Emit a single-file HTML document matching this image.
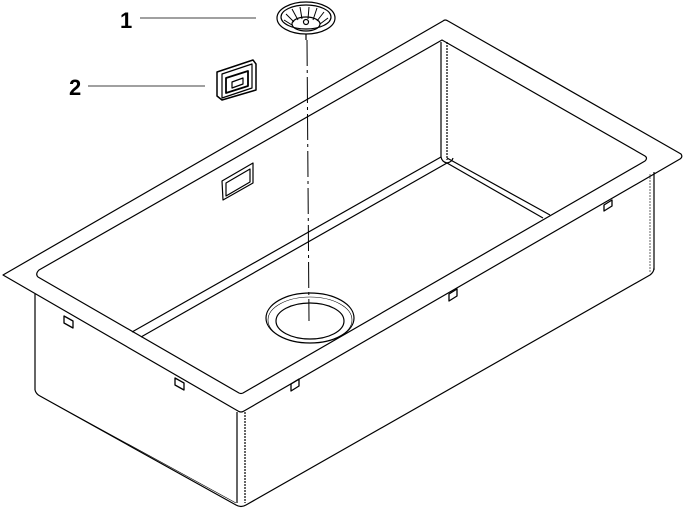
<!DOCTYPE html>
<html><head><style>body{margin:0;background:#fff}svg{display:block}</style></head><body>
<svg width="683" height="511" viewBox="0 0 683 511" xmlns="http://www.w3.org/2000/svg" fill="none" stroke="#000" stroke-width="1.2" stroke-linejoin="round">
<!-- labels -->
<text x="120" y="28" font-family="Liberation Sans, sans-serif" font-size="22" font-weight="bold" fill="#000" stroke="none">1</text>
<line x1="140" y1="18" x2="256" y2="18" stroke-width="0.8"/>
<text x="69" y="95" font-family="Liberation Sans, sans-serif" font-size="22" font-weight="bold" fill="#000" stroke="none">2</text>
<line x1="88" y1="86" x2="205" y2="86" stroke-width="0.8"/>
<!-- strainer -->
<ellipse cx="306" cy="18" rx="29" ry="16"/>
<ellipse cx="306" cy="17" rx="25" ry="12"/>
<ellipse cx="306" cy="24" rx="14" ry="7"/>
<g stroke-width="1">
<line x1="286" y1="14" x2="294" y2="22"/><line x1="292" y1="9" x2="298" y2="20"/><line x1="300" y1="7" x2="302" y2="19"/>
<line x1="309" y1="7" x2="308" y2="19"/><line x1="317" y1="8" x2="313" y2="20"/><line x1="324" y1="12" x2="317" y2="21"/>
<line x1="328" y1="18" x2="320" y2="24"/><line x1="284" y1="20" x2="292" y2="25"/>
</g>
<circle cx="306" cy="22" r="2.5"/>
<line x1="306" y1="34" x2="306" y2="40"/>
<!-- overflow cover -->
<path d="M217 72 L253 60 L256 64 L256 90 L222 100 L217 96 Z" stroke-width="1.5"/>
<path d="M222 74 L252 64 L252 88 L222 98 Z"/>
<path d="M226 78 L248 71 L248 86 L226 93 Z" stroke-width="1.8"/>
<path d="M232 82 L243 78 L243 84 L232 88 Z"/>
<!-- dashed axis -->
<line x1="307" y1="40" x2="309" y2="321" stroke-width="1" stroke-dasharray="26 4 3 4"/>
<!-- rim outer -->
<path d="M3 275 L443 21 Q445 19 448 21 L681 154 Q683 157 680 159 L244 411 Q241 413 238 411 Z"/>
<!-- rim inner -->
<path d="M39 270 L442 40 L645 156 Q648 158 645 161 L243 393 Q241 394 239 393 L38 277 Q35 274 39 270 Z"/>
<!-- back corner fillet -->
<line x1="441" y1="42" x2="441" y2="157"/>
<line x1="447" y1="42" x2="447" y2="160" stroke-dasharray="2 1"/>
<path d="M441 157 Q442 162 447 163 Q452 162 453 158"/>
<!-- floor edges -->
<line x1="441" y1="157" x2="132" y2="332"/>
<line x1="447" y1="163" x2="141" y2="337"/>
<line x1="447" y1="158" x2="550" y2="215"/>
<line x1="447" y1="163" x2="543" y2="218"/>
<!-- overflow on back wall -->
<path d="M222 181 L253 163 L253 183 L223 200 Z"/>
<path d="M226 183 L250 169 L250 182 L226 196 Z"/>
<!-- drain -->
<ellipse cx="310" cy="318" rx="44" ry="25"/>
<ellipse cx="310" cy="320" rx="42" ry="23" stroke-width="0.6"/>
<ellipse cx="310" cy="321" rx="34" ry="18"/>
<!-- body -->
<line x1="35" y1="294" x2="35" y2="390"/>
<path d="M35 390 Q36 394 40 396 L236 505 Q241 508 246 505 L650 275 Q654 272 654 268"/>
<path d="M40 396 L236 503" stroke-width="0.6"/>
<line x1="654" y1="172" x2="654" y2="270"/>
<line x1="650" y1="174" x2="650" y2="272" stroke-width="0.6" stroke-dasharray="2 1"/>
<line x1="237" y1="412" x2="237" y2="503"/>
<line x1="245" y1="412" x2="245" y2="503" stroke-dasharray="2 1"/>
<!-- clips -->
<g stroke-width="1.3">
<path d="M64 316 l9 5 l0 7 l-9 -5 z"/><path d="M175 378 l9 5 l0 7 l-9 -5 z"/>
<path d="M291 384 l8 -5 l0 7 l-8 5 z"/><path d="M449 294 l8 -5 l0 7 l-8 5 z"/>
<path d="M604 205 l8 -5 l0 6 l-8 5 z"/>
</g>
</svg>
</body></html>
